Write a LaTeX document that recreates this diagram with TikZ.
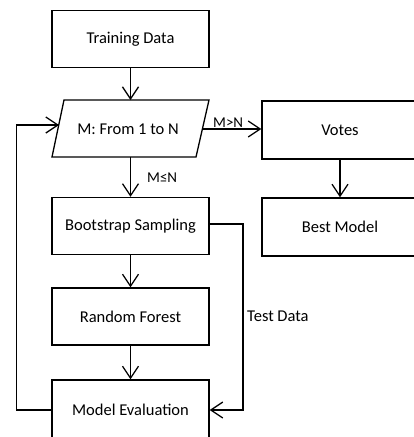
\documentclass[tikz,border=0pt]{standalone}
\usepackage{fontspec}
\setmainfont{Carlito}
\usetikzlibrary{arrows.meta}
\begin{document}
\begin{tikzpicture}[x=1pt,y=-1pt,
  every node/.style={font=\fontsize{16.5}{19}\selectfont},
  box/.style={draw,line width=1.3pt,rectangle,minimum width=157pt,minimum height=57pt,inner sep=0pt},
  conn/.style={line width=1.3pt,-{Straight Barb[length=12pt,width=16pt,line width=1.3pt]}},
  lbl/.style={inner sep=0pt,font=\fontsize{15}{17}\selectfont}]
\useasboundingbox (0,0) rectangle (414,437);
\clip (0,0) rectangle (414,437);
\node[box] (train) at (130.5,39) {Training Data};
% parallelogram
\draw[line width=1.3pt] (64,100) coordinate (pTL) -- (209,100) coordinate (pTR)
   -- (196,157) coordinate (pBR) -- (52,157) coordinate (pBL) -- cycle;
\node[inner sep=0pt] (param) at (128,129) {M: From 1 to N};
\coordinate (pTop) at (130.5,100);
\coordinate (pBot) at (130.5,157);
\coordinate (pR) at (202,129);
\coordinate (pL) at (59,125);
\node[box] (boot) at (130.5,226) {Bootstrap Sampling};
\node[box] (rf) at (130.5,316.5) {Random Forest};
\node[box,minimum height=60pt] (me) at (130.5,410) {Model Evaluation};
\node[box,minimum width=160pt,minimum height=58pt] (votes) at (342,130) {};
\node (vt) at (340,130) {Votes};
\node[box,minimum width=160pt,minimum height=58pt] (best) at (342,227) {};
\node (bt) at (340,227) {Best Model};
\draw[conn] (train) -- (pTop);
\draw[conn] (pR) -- (votes.west |- pR);
\node[lbl,anchor=south west] (mgt) at (213,128) {M>N};
\draw[conn] (pBot) -- (boot);
\node[lbl,anchor=west] (mle) at (147,178) {M≤N};
\draw[conn] (boot) -- (rf);
\draw[conn] (rf) -- (me);
\draw[conn] (me.west) -- ++(-35,0) coordinate (lb) |- (pL);
\coordinate (tr) at (243,224);
\draw[conn] (boot.east |- tr) -- (tr) |- (me.east);
\node[lbl,anchor=west,font=\fontsize{16.5}{19}\selectfont] (td) at (247,316) {Test Data};
\draw[conn] (votes.south -| vt) -- (best.north -| vt);
\end{tikzpicture}
\end{document}
